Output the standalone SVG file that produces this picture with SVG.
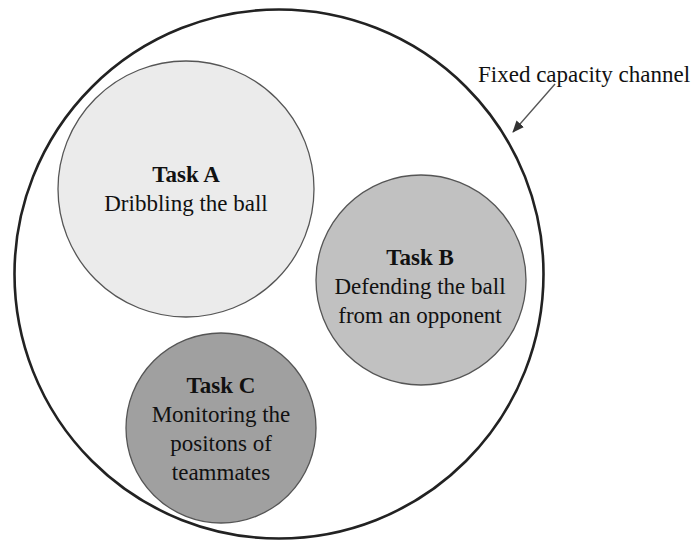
<svg xmlns="http://www.w3.org/2000/svg" width="700" height="541" viewBox="0 0 700 541">
<defs>
<style>
.t{font-family:"Liberation Serif","Times New Roman",serif;font-size:23px;fill:#111;text-anchor:middle}
.b{font-weight:bold}
.task{stroke:#555;stroke-width:1.3}
</style>
<marker id="ah" viewBox="0 0 12 10" refX="11" refY="5" markerWidth="12" markerHeight="10" markerUnits="userSpaceOnUse" orient="auto">
<path d="M0,0 L12,5 L0,10 Z" fill="#333"/>
</marker>
</defs>
<rect width="700" height="541" fill="#fff"/>
<g id="channel">
<circle cx="279" cy="274" r="264.5" fill="none" stroke="#222" stroke-width="2.6"/>
<text x="478" y="82" style="font-family:'Liberation Serif','Times New Roman',serif;font-size:23px;fill:#111">Fixed capacity channel</text>
</g>
<g id="taskA">
<circle class="task" cx="186" cy="189" r="128" fill="#ebebeb"/>
<text class="t b" x="186" y="182">Task A</text>
<text class="t" x="186" y="211">Dribbling the ball</text>
</g>
<g id="taskB">
<circle class="task" cx="421" cy="280" r="105" fill="#c1c1c1"/>
<text class="t b" x="420" y="265">Task B</text>
<text class="t" x="420" y="294">Defending the ball</text>
<text class="t" x="420" y="323">from an opponent</text>
</g>
<g id="taskC">
<circle class="task" cx="221" cy="428" r="95" fill="#a0a0a0"/>
<text class="t b" x="221" y="393">Task C</text>
<text class="t" x="221" y="422">Monitoring the</text>
<text class="t" x="221" y="451">positons of</text>
<text class="t" x="221" y="480">teammates</text>
</g>
<g id="connectors">
<line x1="555" y1="84" x2="513" y2="132" stroke="#555" stroke-width="1.3" marker-end="url(#ah)"/>
</g>
</svg>
